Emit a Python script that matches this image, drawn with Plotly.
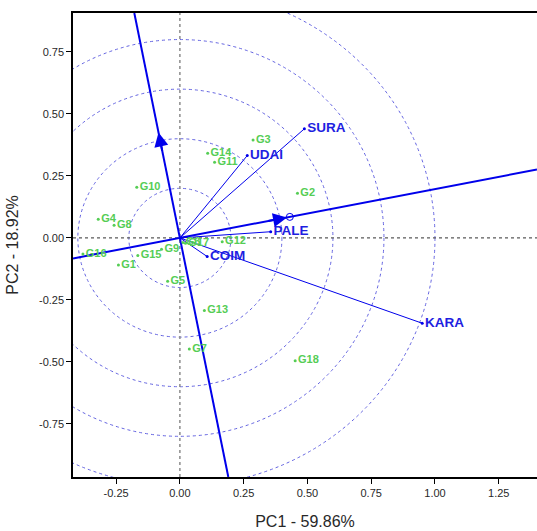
import numpy as np
import plotly.graph_objects as go

# Genotype scores
gen_names = ["G1", "G2", "G3", "G4", "G5", "G6", "G7", "G8", "G9", "G10",
             "G11", "G12", "G13", "G14", "G15", "G16", "G17", "G18"]
gen_pc1 = [-0.241, 0.461, 0.287, -0.320, -0.048, 0.012, 0.037, -0.258, -0.072, -0.169,
           0.136, 0.166, 0.096, 0.109, -0.165, -0.380, 0.022, 0.452]
gen_pc2 = [-0.109, 0.180, 0.395, 0.075, -0.175, -0.018, -0.448, 0.051, -0.046, 0.204,
           0.305, -0.015, -0.293, 0.341, -0.071, -0.065, -0.021, -0.495]

# Environment vectors
env_names = ["SURA", "UDAI", "PALE", "COIM", "KARA"]
env_pc1 = [0.488, 0.264, 0.356, 0.107, 0.950]
env_pc2 = [0.440, 0.332, 0.025, -0.075, -0.344]

# Average environment axis
aea_slope = 0.197
aea_point = 0.431  # PC1 of average environment marker
circle_radii = [0.2, 0.4, 0.6, 0.8, 1.0]

xr = [-0.419, 1.40]
yr = [-0.964, 0.907]

green = "rgb(85,205,85)"
blue_lbl = "rgb(30,30,225)"
blue_line = "rgb(0,0,235)"
circ_col = "rgb(100,100,225)"

fig = go.Figure()

# Concentric circles
shapes = []
for r in circle_radii:
    shapes.append(dict(type="circle", xref="x", yref="y", x0=-r, x1=r, y0=-r, y1=r,
                       line=dict(color=circ_col, width=1, dash="dot"), layer="below"))
# zero lines
shapes.append(dict(type="line", xref="x", yref="y", x0=0, x1=0, y0=yr[0], y1=yr[1],
                   line=dict(color="rgb(140,140,140)", width=1.5, dash="dot"), layer="below"))
shapes.append(dict(type="line", xref="x", yref="y", x0=xr[0], x1=xr[1], y0=0, y1=0,
                   line=dict(color="rgb(90,90,90)", width=1.2, dash="dot"), layer="below"))

# AEA abscissa line
fig.add_trace(go.Scatter(x=[xr[0], xr[1]], y=[aea_slope * xr[0], aea_slope * xr[1]],
                         mode="lines", line=dict(color=blue_line, width=2),
                         hoverinfo="skip", showlegend=False))
# AEA ordinate (perpendicular)
fig.add_trace(go.Scatter(x=[-aea_slope * yr[1], -aea_slope * yr[0]], y=[yr[1], yr[0]],
                         mode="lines", line=dict(color=blue_line, width=2),
                         hoverinfo="skip", showlegend=False))

# Environment vectors
for n, x, y in zip(env_names, env_pc1, env_pc2):
    fig.add_trace(go.Scatter(x=[0, x], y=[0, y], mode="lines",
                             line=dict(color=blue_line, width=1),
                             hoverinfo="skip", showlegend=False))
fig.add_trace(go.Scatter(x=env_pc1, y=env_pc2, mode="markers+text", text=env_names,
                         textposition="middle right",
                         marker=dict(color=blue_line, size=3),
                         textfont=dict(family="Liberation Sans, Arial", size=13.5,
                                       color=blue_lbl, weight="bold"),
                         showlegend=False))

# Average environment marker
fig.add_trace(go.Scatter(x=[aea_point], y=[aea_slope * aea_point], mode="markers",
                         marker=dict(symbol="circle-open", size=7, color=blue_line,
                                     line=dict(width=1)),
                         showlegend=False))

# Genotypes
fig.add_trace(go.Scatter(x=gen_pc1, y=gen_pc2, mode="markers+text", text=gen_names,
                         textposition="middle right",
                         marker=dict(color=green, size=3),
                         textfont=dict(family="Liberation Sans, Arial", size=11,
                                       color=green, weight="bold"),
                         showlegend=False))

# Arrowheads
ah_x = 0.42
fig.add_annotation(x=ah_x, y=aea_slope * ah_x, ax=ah_x - 0.08, ay=aea_slope * (ah_x - 0.08),
                   xref="x", yref="y", axref="x", ayref="y", text="", showarrow=True,
                   arrowhead=2, arrowsize=1.4, arrowwidth=2, arrowcolor=blue_line)
ah_y = 0.425
fig.add_annotation(x=-aea_slope * ah_y, y=ah_y, ax=-aea_slope * (ah_y - 0.08), ay=ah_y - 0.08,
                   xref="x", yref="y", axref="x", ayref="y", text="", showarrow=True,
                   arrowhead=2, arrowsize=1.4, arrowwidth=2, arrowcolor=blue_line)

fig.update_layout(
    width=537, height=531,
    margin=dict(l=73, r=0, t=13, b=54),
    paper_bgcolor="white", plot_bgcolor="white",
    shapes=shapes,
    font=dict(family="Liberation Sans, Arial", color="rgb(40,40,40)"),
    xaxis=dict(range=xr, tickvals=[-0.25, 0, 0.25, 0.5, 0.75, 1.0, 1.25],
               ticktext=["-0.25", "0.00", "0.25", "0.50", "0.75", "1.00", "1.25"],
               showgrid=False, zeroline=False, showline=True, linecolor="black",
               linewidth=1.5, mirror=True, ticks="outside", ticklen=5,
               tickcolor="black", tickfont=dict(size=11),
               title=dict(text="PC1 - 59.86%", font=dict(size=16), standoff=18)),
    yaxis=dict(range=yr, tickvals=[-0.75, -0.5, -0.25, 0, 0.25, 0.5, 0.75],
               ticktext=["-0.75", "-0.50", "-0.25", "0.00", "0.25", "0.50", "0.75"],
               showgrid=False, zeroline=False, showline=True, linecolor="black",
               linewidth=1.5, mirror=False, ticks="outside", ticklen=5,
               tickcolor="black", tickfont=dict(size=11),
               title=dict(text="PC2 - 18.92%", font=dict(size=16), standoff=16)),
)

fig.write_html("out.html")
